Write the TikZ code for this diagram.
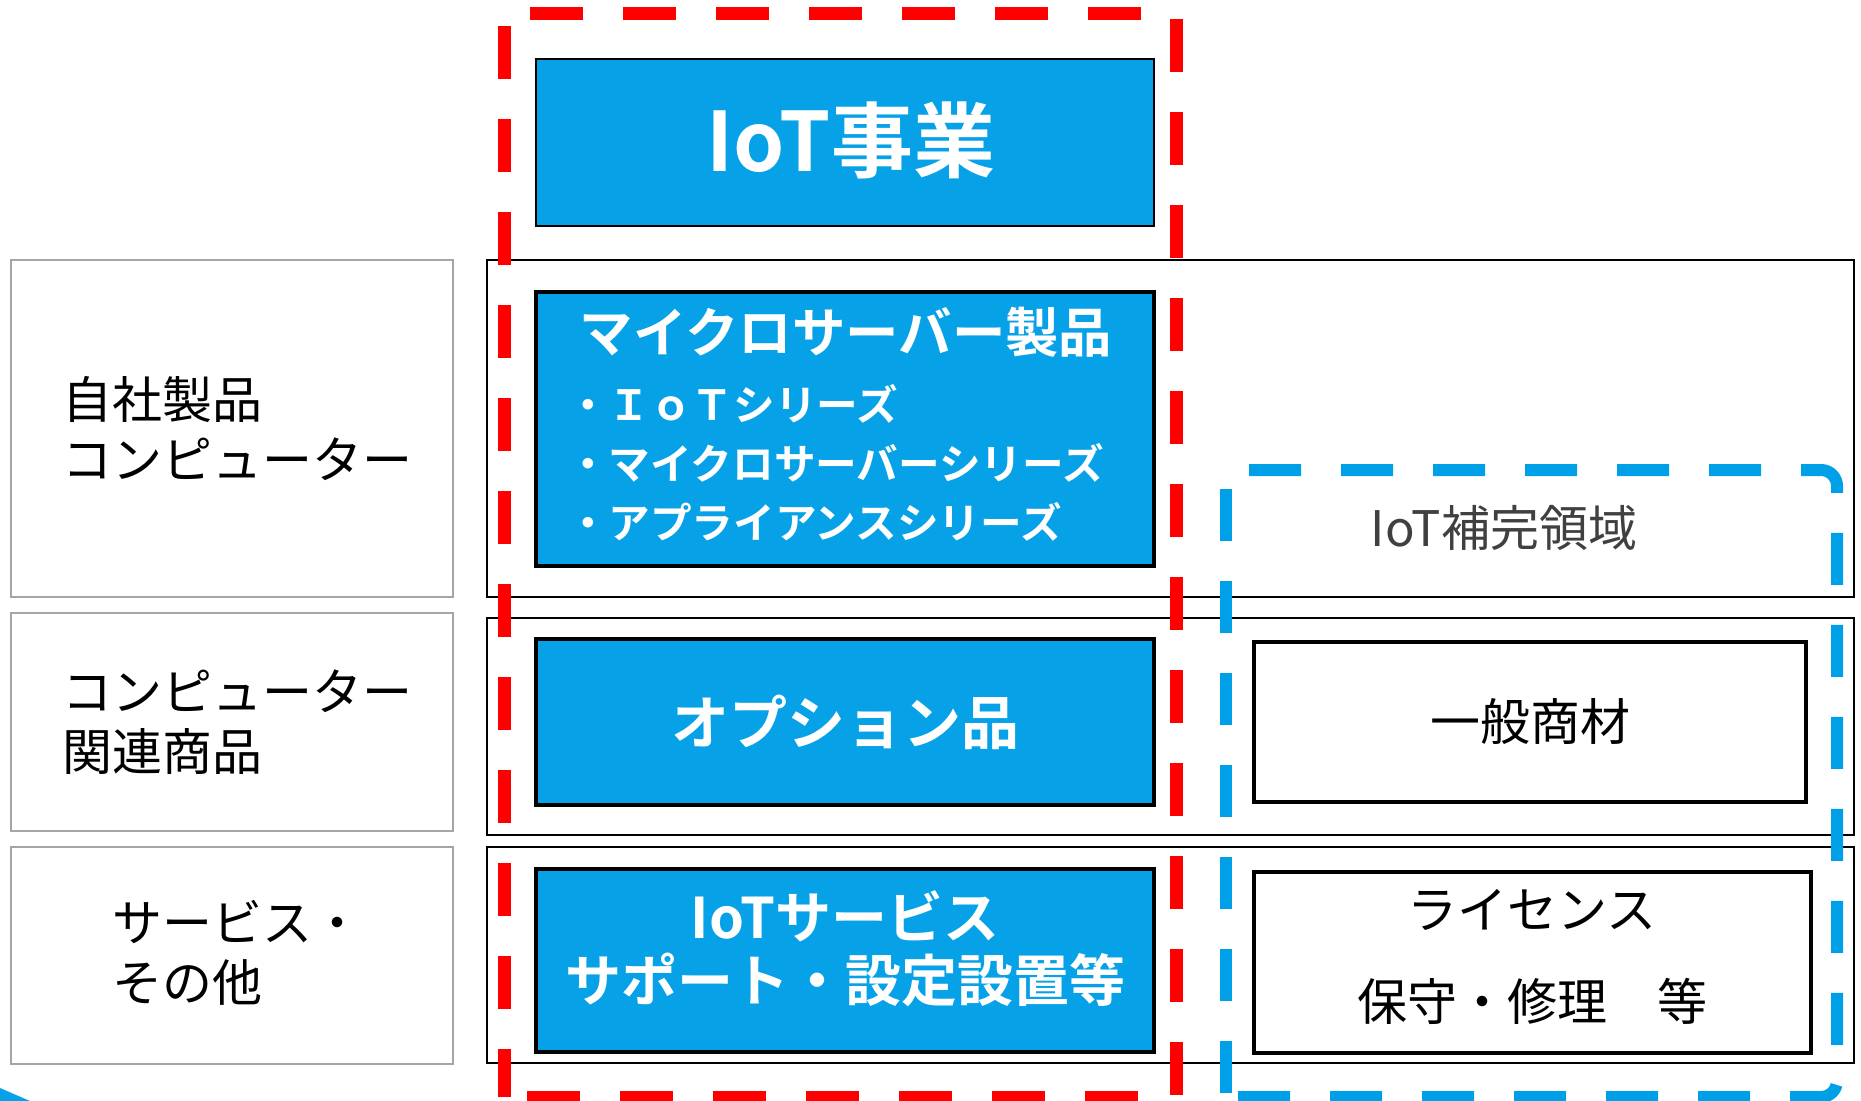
\documentclass[tikz,border=0pt]{standalone}
\usepackage{fontspec}
\setmainfont{Noto Sans CJK JP}[BoldFont={Noto Sans CJK JP Bold}]
\usepackage{xcolor}
\usepackage{tikz}

\definecolor{boxblue}{RGB}{7,161,232}
\definecolor{dashblue}{RGB}{0,160,233}
\definecolor{framegray}{RGB}{165,165,165}
\definecolor{textgray}{RGB}{64,64,64}

\begin{document}
\begin{tikzpicture}[x=0.5pt,y=-0.5pt,
	every node/.style={inner sep=0pt, outer sep=0pt},
	labelbox/.style={draw=framegray, line width=0.8pt, minimum width=221pt},
	labeltext/.style={align=left, font=\fontsize{25}{30}\selectfont},
	rowbox/.style={draw=black, line width=1.2pt, minimum width=683.5pt},
	bizbox/.style={draw=black, line width=2pt, fill=boxblue, text=white, align=center,
		minimum width=309pt},
	itembox/.style={draw=black, line width=2pt, fill=white, align=center,
		font=\fontsize{25}{46}\selectfont},
	reddash/.style={draw=red, line width=6.5pt, dash pattern=on 26.5pt off 20pt},
	bluedash/.style={draw=dashblue, line width=6pt, dash pattern=on 26pt off 20pt,
		rounded corners=8pt}]
	\useasboundingbox (0,0) rectangle (1861,1101);
	\node[rowbox, minimum height=168.5pt] (rowown) at (1170.5,428.5) {};
	\node[rowbox, minimum height=108.5pt] (rowrel) at (1170.5,726.5) {};
	\node[rowbox, minimum height=108pt] (rowsrv) at (1170.5,955) {};
	\node[labelbox, minimum height=168.5pt] (own) at (232,428.5) {};
	\node[labelbox, minimum height=109pt] (rel) at (232,722) {};
	\node[labelbox, minimum height=108.5pt] (srv) at (232,955.5) {};
	\node[labeltext] (owntext) at (237,428.5) {自社製品\\コンピューター};
	\node[labeltext] (reltext) at (237,722) {コンピューター\\関連商品};
	\node[labeltext] (srvtext) at (237,953) {サービス・\\その他};
	\coordinate (redtl) at (504,14);
	\coordinate (redbl) at (504,1097);
	\draw[reddash, dash phase=33.5pt] (redtl) -- (1176,14) -- (1176,1097) -- (redbl);
	\draw[reddash, dash phase=40.5pt] (redtl) -- (redbl);
	\coordinate (bluetl) at (1226,470);
	\coordinate (bluebl) at (1226,1097);
	\draw[bluedash, dash phase=34.5pt] (bluetl) -- (1837,470) -- (1837,1097) -- (bluebl);
	\draw[bluedash, dash phase=36.5pt] (bluetl) -- (bluebl);
	\node[bizbox, line width=0.8pt, minimum height=83.5pt] (iot) at (845,142.5) {};
	\node[text=white, font=\fontsize{41}{49}\selectfont\bfseries] (iottext) at (851,140) {IoT事業};
	\node[bizbox, minimum height=137pt] (micro) at (845,429) {};
	\node[text=white, font=\fontsize{26.7}{30}\selectfont\bfseries] (microhead) at (846,332)
		{マイクロサーバー製品};
	\node[text=white, anchor=west, align=left, font=\fontsize{20.8}{29.5}\selectfont\bfseries]
		(microlist) at (567,463) {・ＩｏＴシリーズ\\・マイクロサーバーシリーズ\\・アプライアンスシリーズ};
	\node[bizbox, minimum height=83pt, font=\fontsize{29}{34}\selectfont\bfseries]
		(option) at (845,722) {オプション品};
	\node[bizbox, minimum height=91.5pt] (service) at (845,960.5) {};
	\node[text=white, align=center, font=\fontsize{28}{31.5}\selectfont\bfseries] (servicetext)
		at (845,949) {IoTサービス\\サポート・設定設置等};
	\node[text=textgray, font=\fontsize{24.5}{28}\selectfont] (extra) at (1504,528) {IoT補完領域};
	\node[itembox, minimum width=276pt, minimum height=80pt] (general) at (1530,722) {一般商材};
	\node[itembox, minimum width=278.5pt, minimum height=90.5pt] (license) at (1532.5,962.5) {};
	\node[align=center, font=\fontsize{25}{46}\selectfont] (licensetext) at (1532,957)
		{ライセンス\\保守・修理　等};
	\fill[boxblue] (0,1088) -- (30,1101) -- (0,1101) -- cycle;
\end{tikzpicture}
\end{document}
